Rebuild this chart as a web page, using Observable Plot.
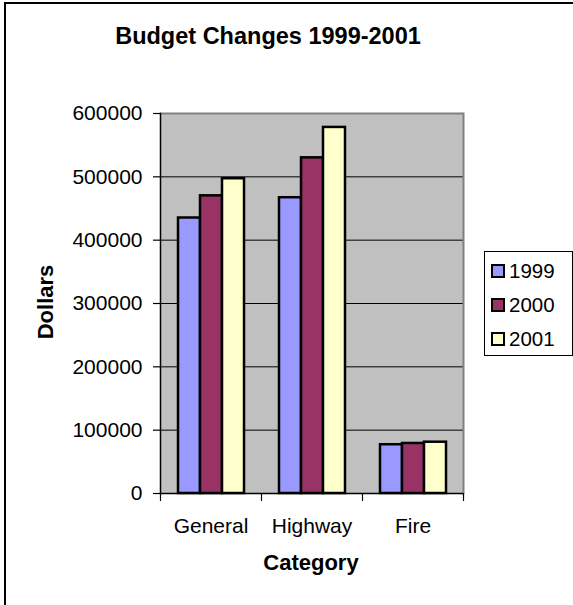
<!DOCTYPE html>
<html>
<head>
<meta charset="utf-8">
<script src="https://cdn.jsdelivr.net/npm/d3@7"></script>
<script src="https://cdn.jsdelivr.net/npm/@observablehq/plot@0.6"></script>
<style>
html,body{margin:0;padding:0;background:#fff;overflow:hidden;}
#wrap{position:relative;width:573px;height:605px;overflow:hidden;font-family:"Liberation Sans",Arial,sans-serif;color:#000;}
#border{position:absolute;left:4px;top:2px;width:800px;height:800px;border-left:2px solid #000;border-top:2px solid #000;}
#chart{position:absolute;left:0;top:0;}
.lbl{position:absolute;white-space:nowrap;font-weight:bold;line-height:1;}
#title{left:0;width:536px;text-align:center;top:25px;font-size:23.5px;}
#ylabel{left:46px;top:302px;font-size:22px;transform:translate(-50%,-50%) rotate(-90deg);}
#xlabel{left:211px;width:200px;text-align:center;top:552px;font-size:22px;}
#legend{position:absolute;left:484px;top:251px;width:87px;height:103px;border:1px solid #000;background:#fff;}
.item{position:absolute;left:6px;height:20px;display:flex;align-items:center;font-size:20.5px;}
.sw{width:10px;height:10px;border:2px solid #000;margin-right:4px;}
</style>
</head>
<body>
<div id="wrap">
  <div id="border"></div>
  <div id="chart"></div>
  <div id="title" class="lbl">Budget Changes 1999-2001</div>
  <div id="ylabel" class="lbl">Dollars</div>
  <div id="xlabel" class="lbl">Category</div>
  <div id="legend"></div>
</div>
<script>
const categories = ["General", "Highway", "Fire"];
const years = ["1999", "2000", "2001"];
const values1999 = [435000, 467000, 77000];
const values2000 = [470000, 530000, 79000];
const values2001 = [497000, 578000, 81000];
const yTicks = [0, 100000, 200000, 300000, 400000, 500000, 600000];
const colors = ["#9999ff", "#993366", "#ffffcc"];

const series = [values1999, values2000, values2001];
const data = categories.flatMap((c, i) => years.map((y, j) => ({category: c, year: y, value: series[j][i]})));

const tickShape = "arrow";

const chart = Plot.plot({
  width: 573,
  height: 605,
  marginLeft: 160,
  marginRight: 110,
  marginTop: 113,
  marginBottom: 112,
  style: {fontFamily: "'Liberation Sans', Arial, sans-serif", background: "transparent", color: "#000", overflow: "visible"},
  fx: {domain: categories, padding: 0, label: null},
  x: {domain: years, paddingInner: 0, paddingOuter: 0.72, axis: null},
  y: {domain: [0, 600000], label: null},
  color: {domain: years, range: colors},
  marks: [
    Plot.frame({fill: "#c0c0c0", stroke: "none", facet: "super"}),
    Plot.ruleY(yTicks.filter(t => t > 0 && t < 600000), {stroke: "#000", strokeWidth: 1}),
    Plot.ruleY([600000], {stroke: "#808080", strokeWidth: 2}),
    Plot.frame({anchor: "right", stroke: "#808080", strokeWidth: 2, facet: "super"}),
    Plot.barY(data, {fx: "category", x: "year", y: "value", fill: "year", stroke: "#000", strokeWidth: 2.5}),
    Plot.ruleY([0], {stroke: "#000", strokeWidth: 1.5}),
    Plot.frame({anchor: "left", stroke: "#000", strokeWidth: 1.5, facet: "super"}),
    Plot.axisY({ticks: yTicks, tickFormat: d => String(d), tickSize: 7, tickPadding: 11, fontSize: 21, label: null, strokeWidth: 1.2}),
    Plot.axisFx({anchor: "bottom", tickSize: 0, tickPadding: 25, fontSize: 21, label: null}),
    Plot.vector(categories, {fx: d => d, frameAnchor: "bottom-left", length: 7, rotate: 180, anchor: "start", shape: tickShape, r: 0.0001, stroke: "#000", strokeWidth: 1.2}),
    Plot.vector([categories[categories.length - 1]], {fx: d => d, frameAnchor: "bottom-right", length: 7, rotate: 180, anchor: "start", shape: tickShape, r: 0.0001, stroke: "#000", strokeWidth: 1.2})
  ]
});
document.getElementById("chart").appendChild(chart);

const legend = document.getElementById("legend");
years.forEach((y, i) => {
  const item = document.createElement("div");
  item.className = "item";
  item.style.top = (9 + i * 34) + "px";
  const sw = document.createElement("div");
  sw.className = "sw";
  sw.style.background = colors[i];
  const t = document.createElement("span");
  t.textContent = y;
  item.appendChild(sw);
  item.appendChild(t);
  legend.appendChild(item);
});
</script>
</body>
</html>
